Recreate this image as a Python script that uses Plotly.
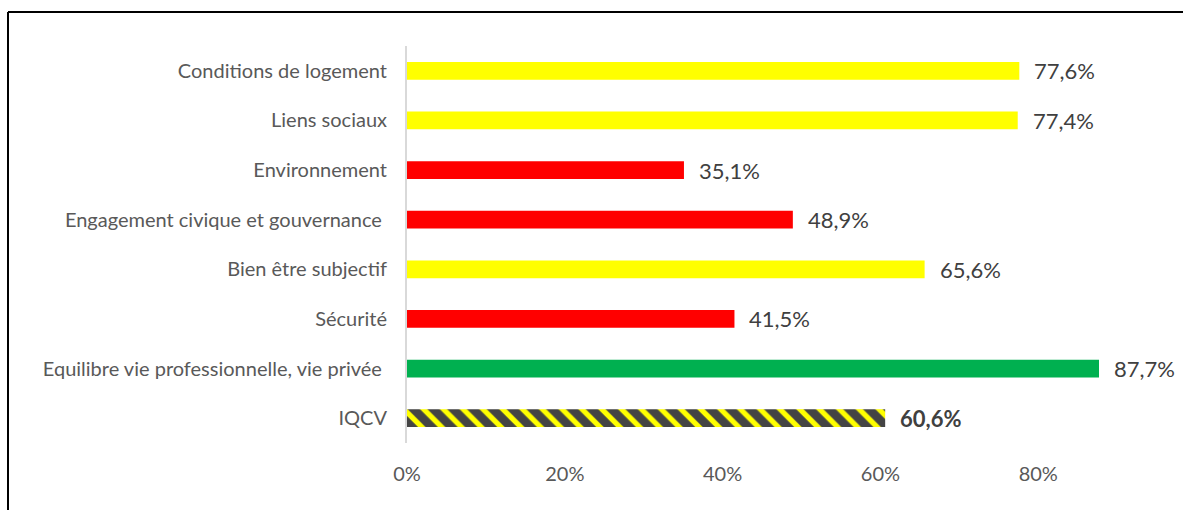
import plotly.graph_objects as go

# Indicator categories (top to bottom) and their scores in percent
categories = [
    "Conditions de logement",
    "Liens sociaux",
    "Environnement",
    "Engagement civique et gouvernance ",
    "Bien être subjectif",
    "Sécurité",
    "Equilibre vie professionnelle, vie privée ",
    "IQCV",
]
values = [77.6, 77.4, 35.1, 48.9, 65.6, 41.5, 87.7, 60.6]
bar_colors = ["#FFFF00", "#FFFF00", "#FF0000", "#FF0000", "#FFFF00", "#FF0000", "#00B050", "#FFFF00"]
tick_values = [0, 0.2, 0.4, 0.6, 0.8]
tick_labels = ["0%", "20%", "40%", "60%", "80%"]

W, H = 1183, 510
LEFT, TOP, BOTTOM = 407, 46, 443

shares = [v / 100 for v in values]
n = len(categories)

# Overall index is drawn with black diagonal hatching over yellow
pattern_shapes = ["" for _ in range(n)]
pattern_shapes[-1] = "\\"

fig = go.Figure(
    go.Bar(
        x=shares,
        y=categories,
        orientation="h",
        width=0.36,
        marker=dict(
            color=bar_colors,
            line=dict(width=0),
            pattern=dict(
                shape=pattern_shapes,
                fgcolor="#000000",
                fgopacity=1,
                size=14,
                solidity=0.62,
                fillmode="overlay",
            ),
        ),
        hoverinfo="skip",
    )
)

# Value labels next to each bar, French decimal comma
for cat, v in zip(categories, values):
    label = f"{v:.1f}".replace(".", ",") + "%"
    bold = cat == "IQCV"
    fig.add_annotation(
        x=v / 100,
        y=cat,
        xref="x",
        yref="y",
        text=f"<b>{label}</b>" if bold else label,
        showarrow=False,
        xanchor="left",
        yanchor="middle",
        xshift=13,
        font=dict(family="Lato", size=22, color="#404040"),
    )

plot_w = W - LEFT
plot_h = BOTTOM - TOP
px_per_unit = (1099 - LEFT) / 0.877


def px_x(x):
    return (x - LEFT) / plot_w


def px_y(y):
    return (BOTTOM - y) / plot_h


# Outer frame (top and left edges)
frame_x, frame_y = 8, 12
fig.add_shape(type="line", xref="paper", yref="paper",
              x0=px_x(frame_x), x1=px_x(W + 5), y0=px_y(frame_y), y1=px_y(frame_y),
              line=dict(color="#000000", width=2))
fig.add_shape(type="line", xref="paper", yref="paper",
              x0=px_x(frame_x), x1=px_x(frame_x), y0=px_y(frame_y), y1=px_y(H + 5),
              line=dict(color="#000000", width=2))

fig.update_layout(
    width=W,
    height=H,
    margin=dict(l=LEFT, r=0, t=TOP, b=H - BOTTOM, pad=0),
    paper_bgcolor="#FFFFFF",
    plot_bgcolor="#FFFFFF",
    showlegend=False,
    bargap=0.64,
    font=dict(family="Lato", color="#595959"),
    xaxis=dict(
        range=[0, plot_w / px_per_unit],
        tickvals=tick_values,
        ticktext=tick_labels,
        showgrid=False,
        zeroline=False,
        showline=False,
        ticks="outside",
        ticklen=13,
        tickcolor="rgba(0,0,0,0)",
        tickfont=dict(family="Lato", size=20, color="#595959"),
        fixedrange=True,
    ),
    yaxis=dict(
        autorange="reversed",
        showgrid=False,
        zeroline=False,
        showline=True,
        linecolor="#D9D9D9",
        linewidth=2,
        ticks="outside",
        ticklen=14,
        tickcolor="rgba(0,0,0,0)",
        tickfont=dict(family="Lato", size=20, color="#595959"),
        fixedrange=True,
    ),
)

fig.write_html("out.html")
